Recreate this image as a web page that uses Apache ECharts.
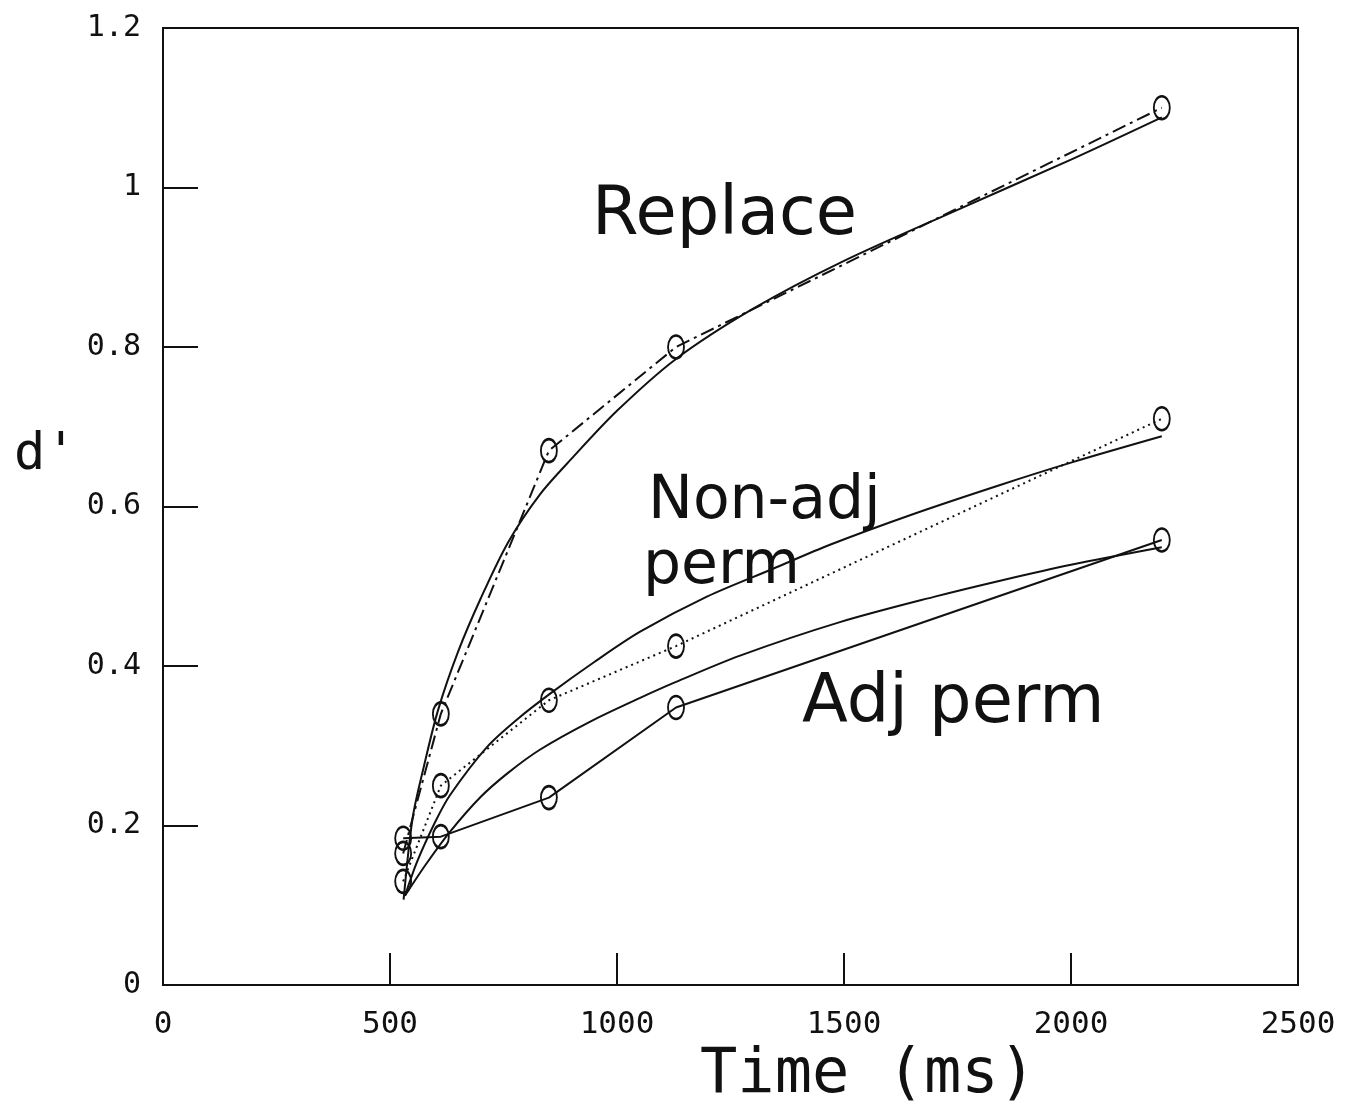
<!DOCTYPE html>
<html>
<head>
<meta charset="utf-8">
<script src="https://cdn.jsdelivr.net/npm/echarts@6/dist/echarts.min.js"></script>
<style>
html,body{margin:0;padding:0;background:#fff;}
#chart{width:1346px;height:1108px;}
</style>
</head>
<body>
<div id="chart"></div>
<script>
// Observed data (time in ms, d')
var replaceData = [[529,0.165],[612,0.34],[850,0.67],[1130,0.80],[2200,1.10]];
var nonAdjData  = [[529,0.13],[612,0.25],[850,0.357],[1130,0.425],[2200,0.71]];
var adjData     = [[529,0.184],[612,0.186],[850,0.235],[1130,0.348],[2200,0.558]];

// Fitted curves
var replaceFit = [[530,0.107],[550,0.21],[575,0.275],[606,0.345],[650,0.418],[700,0.485],[760,0.555],[830,0.615],[900,0.66],[1000,0.72],[1130,0.785],[1300,0.848],[1500,0.908],[1750,0.972],[2000,1.035],[2200,1.088]];
var nonAdjFit  = [[533,0.112],[560,0.155],[600,0.205],[632,0.238],[713,0.298],[780,0.333],[852,0.365],[950,0.405],[1051,0.443],[1198,0.487],[1344,0.522],[1469,0.552],[1650,0.59],[1844,0.627],[2000,0.655],[2200,0.688]];
var adjFit     = [[533,0.112],[580,0.152],[632,0.192],[700,0.236],[760,0.266],[830,0.295],[940,0.33],[1051,0.36],[1130,0.38],[1271,0.413],[1491,0.455],[1700,0.487],[1844,0.507],[2000,0.527],[2200,0.549]];

var xTicks = [0,500,1000,1500,2000,2500];
var yTicks = [0,0.2,0.4,0.6,0.8,1,1.2];

var chart = echarts.init(document.getElementById('chart'));
var ink = '#111';
function dataSeries(name, data, type){
  return {name:name, type:'line', data:data, symbol:'circle', symbolSize:[16,23],
    showAllSymbol:true,
    itemStyle:{color:'rgba(255,255,255,0)', borderColor:ink, borderWidth:2.2},
    lineStyle:{color:ink, width:2, type:type}, z:3, animation:false};
}
function fitSeries(name, data){
  return {name:name, type:'line', data:data, symbol:'none', smooth:0.3,
    lineStyle:{color:ink, width:2, type:'solid'}, z:2, animation:false};
}
chart.setOption({
  animation:false,
  backgroundColor:'#fff',
  grid:{left:163, top:28, right:48, bottom:123, show:false},
  xAxis:{type:'value', min:xTicks[0], max:xTicks[xTicks.length-1], interval:500,
    axisLine:{show:true, onZero:false, lineStyle:{color:ink, width:2}},
    axisTick:{show:true, inside:true, length:32, lineStyle:{color:ink, width:2}},
    axisLabel:{margin:24, color:ink, fontFamily:'DejaVu Sans Mono', fontSize:31, formatter:function(v){return String(v);}},
    splitLine:{show:false}},
  yAxis:{type:'value', min:yTicks[0], max:yTicks[yTicks.length-1], interval:0.2,
    axisLine:{show:true, onZero:false, lineStyle:{color:ink, width:2}},
    axisTick:{show:true, inside:true, length:35, lineStyle:{color:ink, width:2}},
    axisLabel:{margin:22, color:ink, fontFamily:'DejaVu Sans Mono', fontSize:30, formatter:function(v){return String(Math.round(v*10)/10);}},
    splitLine:{show:false}},
  graphic:[
    {type:'rect', shape:{x:163, y:28, width:1135, height:957}, style:{fill:'none', stroke:ink, lineWidth:2}, silent:true, z:1},
    {type:'text', x:592, y:217, style:{text:'Replace', font:'67px "DejaVu Sans"', fill:ink, verticalAlign:'middle'}},
    {type:'text', x:648, y:502, style:{text:'Non-adj', font:'60px "DejaVu Sans"', fill:ink, verticalAlign:'middle'}},
    {type:'text', x:643, y:567, style:{text:'perm', font:'60px "DejaVu Sans"', fill:ink, verticalAlign:'middle'}},
    {type:'text', x:802, y:705, style:{text:'Adj perm', font:'67px "DejaVu Sans"', fill:ink, verticalAlign:'middle'}},
    {type:'text', x:868, y:1076, style:{text:'Time (ms)', font:'62px "DejaVu Sans Mono"', fill:ink, align:'center', verticalAlign:'middle'}},
    {type:'text', x:14, y:455, style:{text:"d'", font:'52px "DejaVu Sans Mono"', fill:ink, verticalAlign:'middle'}}
  ],
  series:[
    fitSeries('Replace fit', replaceFit),
    fitSeries('Non-adj fit', nonAdjFit),
    fitSeries('Adj fit', adjFit),
    dataSeries('Replace', replaceData, [14,5,3,5]),
    dataSeries('Non-adj perm', nonAdjData, [2,4]),
    dataSeries('Adj perm', adjData, 'solid')
  ]
});
</script>
</body>
</html>
